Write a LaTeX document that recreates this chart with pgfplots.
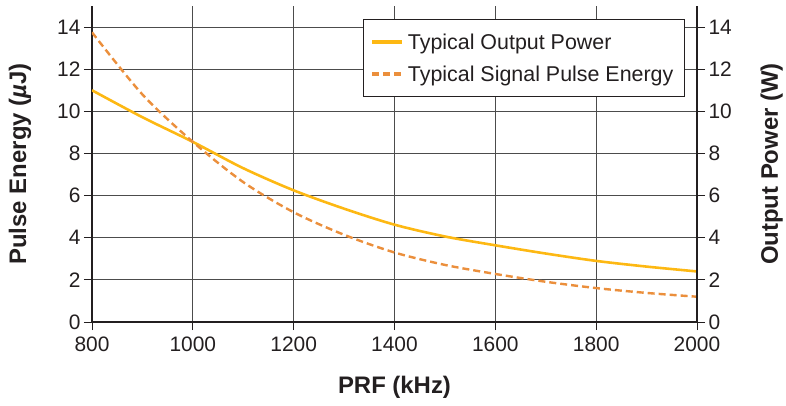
\documentclass[border=0pt]{standalone}
\usepackage{fontspec}
\setmainfont{Liberation Sans}
\usepackage{pgfplots}
\pgfplotsset{compat=1.18}

\definecolor{powc}{RGB}{253,184,19}
\definecolor{pec}{RGB}{235,143,60}
\definecolor{txt}{RGB}{35,31,32}

% power in W, pulse energy in uJ, vs PRF in kHz
\pgfplotstableread{
prf  power  energy
800  11.00  13.75
900   9.72  10.80
1000  8.55   8.55
1100  7.30   6.64
1200  6.25   5.21
1300  5.38   4.14
1400  4.62   3.30
1500  4.06   2.71
1600  3.64   2.28
1700  3.25   1.91
1800  2.90   1.61
1900  2.63   1.38
2000  2.40   1.20
}\prfdata

\pgfplotsset{
  common/.style={
    scale only axis, width=605bp, height=316bp,
    xmin=800, xmax=2000, ymin=0, ymax=15,
    ytick={0,2,...,14},
    tick align=outside, major tick length=8bp,
    tick style={line width=0.8bp, color=txt},
    axis line style={line width=1.6bp, color=txt},
    /pgf/number format/assume math mode=true,
    /pgf/number format/1000 sep={},
    ticklabel style={font=\fontsize{21}{25}\selectfont, text=txt},
    label style={font=\fontsize{24}{28}\selectfont\bfseries, text=txt},
  },
}

\begin{document}
\begin{tikzpicture}
\begin{axis}[common, name=ax,
  axis y line*=left, axis x line*=bottom,
  xtick={800,1000,...,2000},
  xticklabel style={yshift=-3bp},
  grid=major,
  major grid style={line width=0.8bp, color=black!70},
  xlabel={PRF (kHz)},
  ylabel={Pulse Energy ({\itshape\textmu}J)},
  xlabel style={at={(axis description cs:0.5,0)}, anchor=base, yshift=-71bp},
  ylabel style={at={(axis description cs:-0.119,0.5)}, anchor=center, rotate=0},
  legend cell align=left,
  legend style={at={(1,1)}, anchor=north east, xshift=-12bp, yshift=-13bp,
    draw=txt, line width=1.2bp, font=\fontsize{21.5}{25}\selectfont, text=txt,
    inner xsep=7bp, inner ysep=12bp, row sep=11bp},
  legend image code/.code={\draw[#1, line width=3.4bp] (0bp,0bp) -- (30bp,0bp);},
  legend style={nodes={inner xsep=4bp}},
]
\addplot[smooth, color=powc, line width=2.6bp] table[x=prf, y=power] {\prfdata};
\addlegendentry{Typical Output Power}
\addplot[smooth, color=pec, line width=2.4bp, dash pattern=on 7bp off 4bp] table[x=prf, y=energy] {\prfdata};
\addlegendentry{Typical Signal Pulse Energy}
\end{axis}
\begin{axis}[common,
  axis y line*=right, axis x line=none,
  ylabel={Output Power (W)},
  ylabel style={at={(axis description cs:1.1235,0.5)}, anchor=center, rotate=0},
]
\end{axis}
\pgfresetboundingbox
\path[use as bounding box] ([shift={(-92bp,-84bp)}]ax.south west) rectangle ([shift={(89bp,6bp)}]ax.north east);
\end{tikzpicture}
\end{document}
